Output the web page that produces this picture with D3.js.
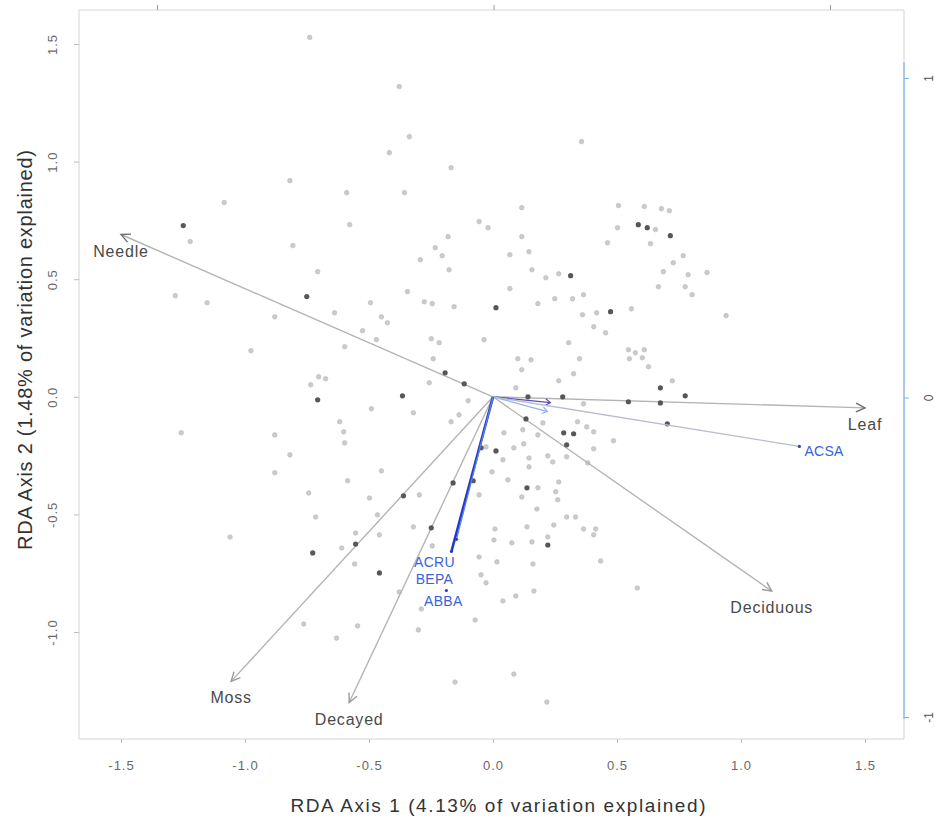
<!DOCTYPE html>
<html>
<head>
<meta charset="utf-8">
<script src="https://cdn.jsdelivr.net/npm/d3@7"></script>
<style>
  html, body { margin: 0; padding: 0; background: #fff; }
  svg { display: block; font-family: Arial, "Liberation Sans", sans-serif; }
</style>
</head>
<body>
<svg id="chart" width="935" height="821"></svg>
<script>
// ---- Site scores on RDA axes 1 and 2 (light grey sites) ----
const siteX = [-0.739,-0.819,-1.084,-1.221,-0.807,-0.707,-1.281,-1.153,-0.880,-0.976,-0.703,-0.735,-1.257,-0.880,-0.819,-0.880,-0.743,-0.715,-1.060,-0.763,
  -0.378,-0.337,-0.418,-0.169,0.357,-0.590,-0.357,-0.578,0.116,0.506,0.502,0.462,-0.056,-0.020,-0.181,0.116,-0.233,-0.205,-0.293,0.068,
  0.145,-0.177,0.157,0.213,0.265,0.610,0.679,0.711,0.655,0.635,0.767,0.727,0.687,0.787,0.863,0.667,0.775,0.803,0.558,0.940,
  0.454,0.546,0.574,0.610,0.602,0.550,0.627,0.723,0.486,-0.345,0.068,-0.494,-0.277,-0.245,-0.157,0.181,0.249,0.321,0.365,0.361,
  0.418,-0.639,-0.450,-0.426,0.406,-0.526,-0.470,-0.249,-0.217,-0.036,0.305,-0.598,0.100,0.153,-0.241,0.349,0.116,0.325,-0.675,-0.257,
  0.265,0.092,-0.100,-0.490,-0.321,-0.137,-0.169,0.365,0.201,0.341,0.378,0.406,-0.618,-0.602,-0.598,0.120,0.181,0.044,0.084,0.124,
  -0.028,0.040,0.145,0.145,0.221,0.241,0.406,0.382,0.297,-0.004,0.060,0.181,0.116,0.265,0.253,0.261,0.177,0.297,0.333,0.365,
  0.414,-0.450,-0.586,-0.498,-0.297,-0.056,-0.466,-0.554,-0.321,0.008,0.137,0.221,0.245,-0.458,-0.610,-0.558,-0.245,0.004,0.076,0.157,
  0.406,-0.056,0.016,0.161,0.434,-0.048,-0.028,-0.546,-0.631,-0.301,0.040,0.092,0.165,-0.072,0.084,-0.153,0.217,0.582,-0.289,-0.378];
const siteY = [1.528,0.919,0.826,0.660,0.643,0.532,0.430,0.400,0.340,0.196,0.085,0.051,-0.153,-0.162,-0.247,-0.323,-0.409,-0.511,-0.596,-0.966,
  1.319,1.106,1.038,0.974,1.085,0.868,0.868,0.732,0.804,0.813,0.719,0.655,0.745,0.719,0.681,0.681,0.634,0.600,0.583,0.604,
  0.617,0.540,0.540,0.506,0.523,0.809,0.800,0.791,0.711,0.651,0.600,0.570,0.532,0.519,0.528,0.468,0.468,0.434,0.374,0.345,
  0.272,0.200,0.187,0.200,0.166,0.162,0.128,0.068,-0.187,0.447,0.460,0.400,0.404,0.396,0.383,0.396,0.417,0.417,0.434,0.349,
  0.357,0.357,0.340,0.315,0.298,0.281,0.243,0.247,0.230,0.243,0.230,0.213,0.162,0.157,0.162,0.162,0.115,0.098,0.077,0.060,
  0.068,0.038,-0.017,-0.051,-0.068,-0.077,-0.106,-0.030,-0.111,-0.106,-0.128,-0.149,-0.106,-0.149,-0.196,-0.140,-0.162,-0.153,-0.217,-0.200,
  -0.213,-0.268,-0.260,-0.298,-0.251,-0.277,-0.221,-0.281,-0.255,-0.319,-0.353,-0.387,-0.426,-0.362,-0.404,-0.438,-0.477,-0.511,-0.511,-0.562,
  -0.562,-0.315,-0.357,-0.430,-0.417,-0.417,-0.502,-0.579,-0.553,-0.562,-0.553,-0.596,-0.545,-0.587,-0.643,-0.711,-0.634,-0.609,-0.621,-0.617,
  -0.587,-0.681,-0.702,-0.711,-0.698,-0.757,-0.791,-0.974,-1.026,-0.991,-0.868,-0.847,-0.826,-0.949,-1.179,-1.213,-1.298,-0.813,-0.902,-0.830];

// ---- Site scores drawn in dark grey ----
const darkSiteX = [-1.249,-0.751,0.313,-0.707,-0.727,0.586,0.622,0.715,0.675,0.775,0.546,0.675,0.703,0.012,-0.193,-0.116,0.141,
  0.281,0.285,0.325,0.133,0.297,0.012,0.137,-0.361,-0.161,-0.249,-0.458,0.221,-0.554,-0.080,-0.048,-0.365,0.474];
const darkSiteY = [0.728,0.426,0.515,-0.013,-0.664,0.732,0.719,0.685,0.038,0.004,-0.021,-0.026,-0.115,0.379,0.102,0.055,0.000,
  0.000,-0.153,-0.157,-0.094,-0.204,-0.230,-0.387,-0.421,-0.366,-0.557,-0.749,-0.630,-0.626,-0.357,-0.217,0.004,0.362];

// ---- Environmental (substrate) biplot arrows ----
const envNames = ["Needle", "Leaf", "Moss", "Decayed", "Deciduous"];
const envX = [-1.500, 1.500, -1.056, -0.580, 1.124];
const envY = [0.690, -0.047, -1.210, -1.300, -0.826];

// ---- Species scores (secondary axes) ----
const speciesNames = ["ACSA", "ACRU", "BEPA", "ABBA"];
const speciesX = [0.909, -0.125, -0.110, -0.140];
const speciesY = [-0.153, -0.482, -0.444, -0.604];
const minorSpeciesX = [0.169, 0.160];
const minorSpeciesY = [-0.016, -0.044];

// ---- Axis ticks and titles ----
const xTicks = [-1.5, -1.0, -0.5, 0.0, 0.5, 1.0, 1.5];
const xTickLabels = ["-1.5", "-1.0", "-0.5", "0.0", "0.5", "1.0", "1.5"];
const yTicks = [-1.0, -0.5, 0.0, 0.5, 1.0, 1.5];
const yTickLabels = ["-1.0", "-0.5", "0.0", "0.5", "1.0", "1.5"];
const speciesTicks = [-1, 0, 1];
const speciesTickLabels = ["-1", "0", "1"];
const xTitle = "RDA Axis 1 (4.13% of variation explained)";
const yTitle = "RDA Axis 2 (1.48% of variation explained)";

// ---- Layout ----
const box = { left: 79, right: 904, top: 10, bottom: 739 };
const svg = d3.select("#chart");

const x = d3.scaleLinear().domain([-1.5, 1.5]).range([121, 865]);
const y = d3.scaleLinear().domain([-1.0, 1.5]).range([632, 44]);
const xs = d3.scaleLinear().domain([-1, 1]).range([157, 830]);
const ys = d3.scaleLinear().domain([-1, 1]).range([717, 78]);

// frame
const frame = svg.append("g").attr("stroke", "#d4d4d4").attr("stroke-width", 1).attr("fill", "none");
frame.append("line").attr("x1", box.left).attr("x2", box.right).attr("y1", box.top).attr("y2", box.top);
frame.append("line").attr("x1", box.left).attr("x2", box.right).attr("y1", box.bottom).attr("y2", box.bottom);
frame.append("line").attr("x1", box.left).attr("x2", box.left).attr("y1", box.top).attr("y2", box.bottom);
frame.append("line").attr("x1", box.right).attr("x2", box.right).attr("y1", box.top).attr("y2", box.bottom);

// bottom axis
const gx = svg.append("g").attr("transform", `translate(0,${box.bottom})`)
  .call(d3.axisBottom(x).tickValues(xTicks).tickFormat((d, i) => xTickLabels[i]).tickSize(4).tickPadding(18));
gx.select(".domain").remove();
gx.selectAll(".tick line").attr("stroke", "#bdbdbd");
gx.selectAll(".tick text").attr("fill", "#6a6a6a").attr("font-size", 13).attr("letter-spacing", "1px")
  .attr("font-family", "Arial, 'Liberation Sans', sans-serif");

// left axis (labels parallel to the axis)
const gy = svg.append("g").attr("transform", `translate(${box.left},0)`)
  .call(d3.axisLeft(y).tickValues(yTicks).tickFormat((d, i) => yTickLabels[i]).tickSize(5));
gy.select(".domain").remove();
gy.selectAll(".tick line").attr("stroke", "#bdbdbd");
gy.selectAll(".tick text")
  .attr("fill", "#6a6a6a").attr("font-size", 13).attr("letter-spacing", "1px")
  .attr("font-family", "Arial, 'Liberation Sans', sans-serif")
  .attr("x", null).attr("dy", null)
  .attr("text-anchor", "middle")
  .attr("transform", "translate(-22,0) rotate(-90)");

// top axis (species scale): tick marks only, its labels sit above the page
const gt = svg.append("g").attr("transform", `translate(0,${box.top})`)
  .call(d3.axisTop(xs).tickValues(speciesTicks).tickFormat("").tickSize(5));
gt.select(".domain").remove();
gt.selectAll(".tick line").attr("stroke", "#9a9a9a");

// right axis (species scale)
svg.append("line").attr("x1", box.right).attr("x2", box.right)
  .attr("y1", ys(1) - 16).attr("y2", ys(-1) + 2)
  .attr("stroke", "#7fb3ee").attr("stroke-width", 1.2);
const gr = svg.append("g").attr("transform", `translate(${box.right},0)`)
  .call(d3.axisRight(ys).tickValues(speciesTicks).tickFormat((d, i) => speciesTickLabels[i]).tickSize(5));
gr.select(".domain").remove();
gr.selectAll(".tick line").attr("stroke", "#7fb3ee");
gr.selectAll(".tick text")
  .attr("fill", "#555").attr("font-size", 12)
  .attr("font-family", "Arial, 'Liberation Sans', sans-serif")
  .attr("x", null).attr("dy", null)
  .attr("text-anchor", "middle")
  .attr("transform", "translate(29,0) rotate(-90)");

// axis titles
svg.append("text")
  .attr("x", 498).attr("y", 812)
  .attr("text-anchor", "middle")
  .attr("font-size", 19).attr("fill", "#333")
  .attr("textLength", 415).attr("lengthAdjust", "spacing")
  .text(xTitle);
svg.append("text")
  .attr("transform", "translate(32,350) rotate(-90)")
  .attr("text-anchor", "middle")
  .attr("font-size", 20).attr("fill", "#333")
  .attr("textLength", 400).attr("lengthAdjust", "spacing")
  .text(yTitle);

// site points
const lightSites = d3.range(siteX.length).map(i => ({ x: siteX[i], y: siteY[i] }));
const darkSites = d3.range(darkSiteX.length).map(i => ({ x: darkSiteX[i], y: darkSiteY[i] }));

svg.append("g").selectAll("circle").data(lightSites).join("circle")
  .attr("cx", d => x(d.x)).attr("cy", d => y(d.y)).attr("r", 2.3)
  .attr("fill", "#cbcbcb").attr("stroke", "#b9b9b9").attr("stroke-width", 0.6);

// arrowhead helper
function head(x0, y0, x1, y1, len, spread) {
  const a = Math.atan2(y1 - y0, x1 - x0);
  const p1 = [x1 - len * Math.cos(a - spread), y1 - len * Math.sin(a - spread)];
  const p2 = [x1 - len * Math.cos(a + spread), y1 - len * Math.sin(a + spread)];
  return `M${p1[0]},${p1[1]}L${x1},${y1}L${p2[0]},${p2[1]}`;
}

const ox = x(0), oy = y(0);

// environmental arrows
const env = envNames.map((n, i) => ({ name: n, x: envX[i], y: envY[i] }));
const envG = svg.append("g");
envG.selectAll("line").data(env).join("line")
  .attr("x1", ox).attr("y1", oy)
  .attr("x2", d => x(d.x)).attr("y2", d => y(d.y))
  .attr("stroke", "#b4b4b4").attr("stroke-width", 1.4);
envG.selectAll("path").data(env).join("path")
  .attr("d", d => head(ox, oy, x(d.x), y(d.y), 10, 0.45))
  .attr("fill", "none")
  .attr("stroke", d => (d.name === "Needle" || d.name === "Leaf") ? "#6e6e6e" : "#9a9a9a")
  .attr("stroke-width", 1.4);
envG.selectAll("text").data(env).join("text")
  .attr("x", d => x(d.x)).attr("y", d => y(d.y) + 22)
  .attr("text-anchor", "middle")
  .attr("font-size", 16).attr("letter-spacing", "0.8px")
  .attr("fill", "#4a4a4a")
  .text(d => d.name);

// species vectors
const species = speciesNames.map((n, i) => ({ name: n, x: speciesX[i], y: speciesY[i] }));
const lineColour = { ACSA: "#b9bccb", ACRU: "#2638c4", BEPA: "#5a86e6", ABBA: "none" };
const lineWidth = { ACSA: 1.3, ACRU: 2.6, BEPA: 1.3, ABBA: 0 };
const labelNudge = {
  ACSA: { dx: 5, dy: 10, anchor: "start" },
  ACRU: { dx: -17, dy: 16, anchor: "middle" },
  BEPA: { dx: -22, dy: 45, anchor: "middle" },
  ABBA: { dx: -3, dy: 16, anchor: "middle" }
};
const spG = svg.append("g");

const minor = minorSpeciesX.map((v, i) => ({ x: v, y: minorSpeciesY[i] }));
const minorColour = ["#5b4bb8", "#8fb0ee"];
spG.selectAll("line.minor").data(minor).join("line").attr("class", "minor")
  .attr("x1", ox).attr("y1", oy)
  .attr("x2", d => xs(d.x)).attr("y2", d => ys(d.y))
  .attr("stroke", (d, i) => minorColour[i]).attr("stroke-width", 1.3);
spG.selectAll("path.minor").data(minor).join("path").attr("class", "minor")
  .attr("d", d => head(ox, oy, xs(d.x), ys(d.y), 6, 0.6))
  .attr("fill", "none").attr("stroke", (d, i) => minorColour[i]).attr("stroke-width", 1.2);

spG.selectAll("line.sp").data(species.filter(d => lineColour[d.name] !== "none")).join("line").attr("class", "sp")
  .attr("x1", ox).attr("y1", oy)
  .attr("x2", d => xs(d.x)).attr("y2", d => ys(d.y))
  .attr("stroke", d => lineColour[d.name]).attr("stroke-width", d => lineWidth[d.name]);

// dark site points sit above the vectors
svg.append("g").selectAll("circle").data(darkSites).join("circle")
  .attr("cx", d => x(d.x)).attr("cy", d => y(d.y)).attr("r", 2.6)
  .attr("fill", "#575757");

spG.raise();
spG.selectAll("circle.sp").data(species).join("circle").attr("class", "sp")
  .attr("cx", d => xs(d.x)).attr("cy", d => ys(d.y)).attr("r", 1.6)
  .attr("fill", "#2a3fb8");
spG.selectAll("text").data(species).join("text")
  .attr("x", d => xs(d.x) + labelNudge[d.name].dx)
  .attr("y", d => ys(d.y) + labelNudge[d.name].dy)
  .attr("text-anchor", d => labelNudge[d.name].anchor)
  .attr("font-size", 14).attr("letter-spacing", "0.3px")
  .attr("fill", "#3a62dc")
  .text(d => d.name);
</script>
</body>
</html>
